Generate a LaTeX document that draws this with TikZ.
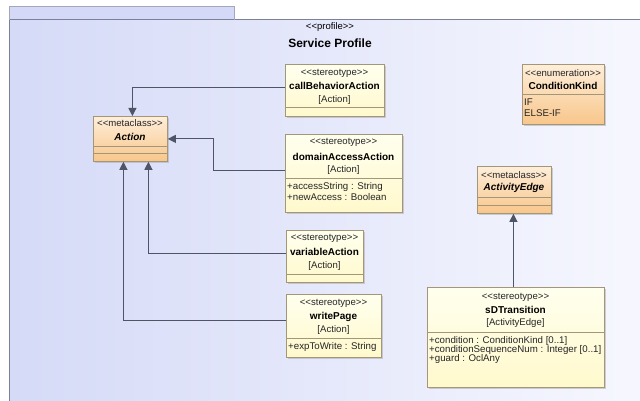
\documentclass[tikz,border=0pt]{standalone}
\usepackage{fontspec}
\setmainfont{Liberation Sans}
\usetikzlibrary{arrows.meta,shadows}
\definecolor{bgL}{HTML}{D5DAF7}
\definecolor{bgR}{HTML}{F6F7FE}
\definecolor{tabfill}{HTML}{D3D9F7}
\definecolor{framec}{HTML}{7C8199}
\definecolor{styT}{HTML}{FFFFEE}
\definecolor{styB}{HTML}{FFF9CC}
\definecolor{metT}{HTML}{FEEEDA}
\definecolor{metB}{HTML}{F8C68A}
\definecolor{boxc}{HTML}{A39679}
\definecolor{linec}{HTML}{4D5566}
\newcommand{\guil}[1]{\mbox{<}\mbox{<}#1\mbox{>}\mbox{>}}
\begin{document}
\begin{tikzpicture}[x=1pt,y=-1pt,
  umlbox/.style={rectangle,draw=boxc,line width=0.8pt,anchor=north west,inner sep=0pt,
    drop shadow={shadow xshift=2pt,shadow yshift=-2pt,fill=black!35,opacity=0.5}},
  stybox/.style={umlbox,top color=styT,bottom color=styB},
  metbox/.style={umlbox,top color=metT,bottom color=metB},
  stt/.style={inner sep=0pt,font=\fontsize{9.6}{10}\selectfont,text=black!85},
  nm/.style={inner sep=0pt,font=\fontsize{10}{11}\selectfont\bfseries},
  nmi/.style={inner sep=0pt,font=\fontsize{10}{11}\selectfont\bfseries\itshape},
  attr/.style={inner sep=0pt,anchor=west,font=\fontsize{9.7}{10}\selectfont,text=black!85},
  sepl/.style={draw=boxc,line width=0.7pt},
  ext/.style={draw=linec,line width=1pt,-{Triangle[width=8pt,length=8pt]}}]
\useasboundingbox (0,0) rectangle (640,401);
\fill[white] (0,0) rectangle (640,401);
% package frame
\shade[left color=bgL,right color=bgR] (9,20) rectangle (641,402);
\fill[tabfill] (9,6) rectangle (234,20);
\draw[framec,line width=1pt] (9,402) -- (9,20) -- (641,20);
\draw[framec!70,line width=0.8pt] (9,20) -- (9,6) -- (234,6) -- (234,20);
\node[inner sep=0pt,font=\fontsize{9.5}{10}\selectfont] (pst) at (330,27) {\guil{profile}};
\node[inner sep=0pt,font=\fontsize{12}{13}\selectfont\bfseries] (pname) at (330,43) {Service Profile};

% Action metaclass
\node[metbox,minimum width=74pt,minimum height=45pt] (act) at (93,116) {};
\node[stt] (act-s) at (130,123) {\guil{metaclass}};
\node[nmi] (act-n) at (130,137) {Action};
\draw[sepl] (act.west |- 0,146) -- (act.east |- 0,146);
\draw[sepl] (act.west |- 0,153) -- (act.east |- 0,153);

% callBehaviorAction
\node[stybox,minimum width=99pt,minimum height=52pt] (cba) at (285,64) {};
\node[stt] (cba-s) at (334.5,73) {\guil{stereotype}};
\node[nm] (cba-n) at (334.5,86) {callBehaviorAction};
\node[stt] (cba-b) at (334.5,100) {[Action]};
\draw[sepl] (cba.west |- 0,107) -- (cba.east |- 0,107);

% domainAccessAction
\node[stybox,minimum width=117pt,minimum height=78pt] (daa) at (285,134) {};
\node[stt] (daa-s) at (343.5,142) {\guil{stereotype}};
\node[nm] (daa-n) at (343.5,157) {domainAccessAction};
\node[stt] (daa-b) at (343.5,170) {[Action]};
\draw[sepl] (daa.west |- 0,178) -- (daa.east |- 0,178);
\node[attr] (daa-a1) at (287,187) {+accessString : String};
\node[attr] (daa-a2) at (287,197) {+newAccess : Boolean};

% variableAction
\node[stybox,minimum width=77pt,minimum height=52pt] (var) at (286,230) {};
\node[stt] (var-s) at (324.5,238) {\guil{stereotype}};
\node[nm] (var-n) at (324.5,252) {variableAction};
\node[stt] (var-b) at (324.5,266) {[Action]};
\draw[sepl] (var.west |- 0,274) -- (var.east |- 0,274);

% writePage
\node[stybox,minimum width=95pt,minimum height=63pt] (wp) at (286,294) {};
\node[stt] (wp-s) at (333.5,303) {\guil{stereotype}};
\node[nm] (wp-n) at (333.5,317) {writePage};
\node[stt] (wp-b) at (333.5,330) {[Action]};
\draw[sepl] (wp.west |- 0,338) -- (wp.east |- 0,338);
\node[attr] (wp-a1) at (288,347) {+expToWrite : String};

% ConditionKind enumeration
\node[metbox,minimum width=82pt,minimum height=60pt] (ck) at (522,64) {};
\node[stt] (ck-s) at (563,73) {\guil{enumeration}};
\node[nm] (ck-n) at (563,86) {ConditionKind};
\draw[sepl] (ck.west |- 0,94) -- (ck.east |- 0,94);
\node[attr] (ck-a1) at (524,102) {IF};
\node[attr] (ck-a2) at (524,113) {ELSE-IF};

% ActivityEdge metaclass
\node[metbox,minimum width=74pt,minimum height=47pt] (ae) at (477,166) {};
\node[stt] (ae-s) at (514,175) {\guil{metaclass}};
\node[nmi] (ae-n) at (514,188) {ActivityEdge};
\draw[sepl] (ae.west |- 0,197) -- (ae.east |- 0,197);
\draw[sepl] (ae.west |- 0,205) -- (ae.east |- 0,205);

% sDTransition
\node[stybox,minimum width=177pt,minimum height=100pt] (sdt) at (427,287) {};
\node[stt] (sdt-s) at (515.5,297) {\guil{stereotype}};
\node[nm] (sdt-n) at (515.5,310) {sDTransition};
\node[stt] (sdt-b) at (515.5,323) {[ActivityEdge]};
\draw[sepl] (sdt.west |- 0,332) -- (sdt.east |- 0,332);
\node[attr] (sdt-a1) at (429,341) {+condition : ConditionKind [0..1]};
\node[attr] (sdt-a2) at (429,350) {+conditionSequenceNum : Integer [0..1]};
\node[attr] (sdt-a3) at (429,359) {+guard : OclAny};

% extension connectors
\draw[ext] ([yshift=3pt]cba.west) -| ([xshift=2pt]act.north);
\draw[ext] ([yshift=3pt]daa.west) -- ++(-72,0) |- (act.east);
\draw[ext] ([yshift=3pt]var.west) -| ([xshift=18pt]act.south);
\draw[ext] ([yshift=5.5pt]wp.west) -| ([xshift=-7pt]act.south);
\draw[ext] ([xshift=-1pt]sdt.north -| ae.south) -- ([xshift=-1pt]ae.south);
\end{tikzpicture}
\end{document}
